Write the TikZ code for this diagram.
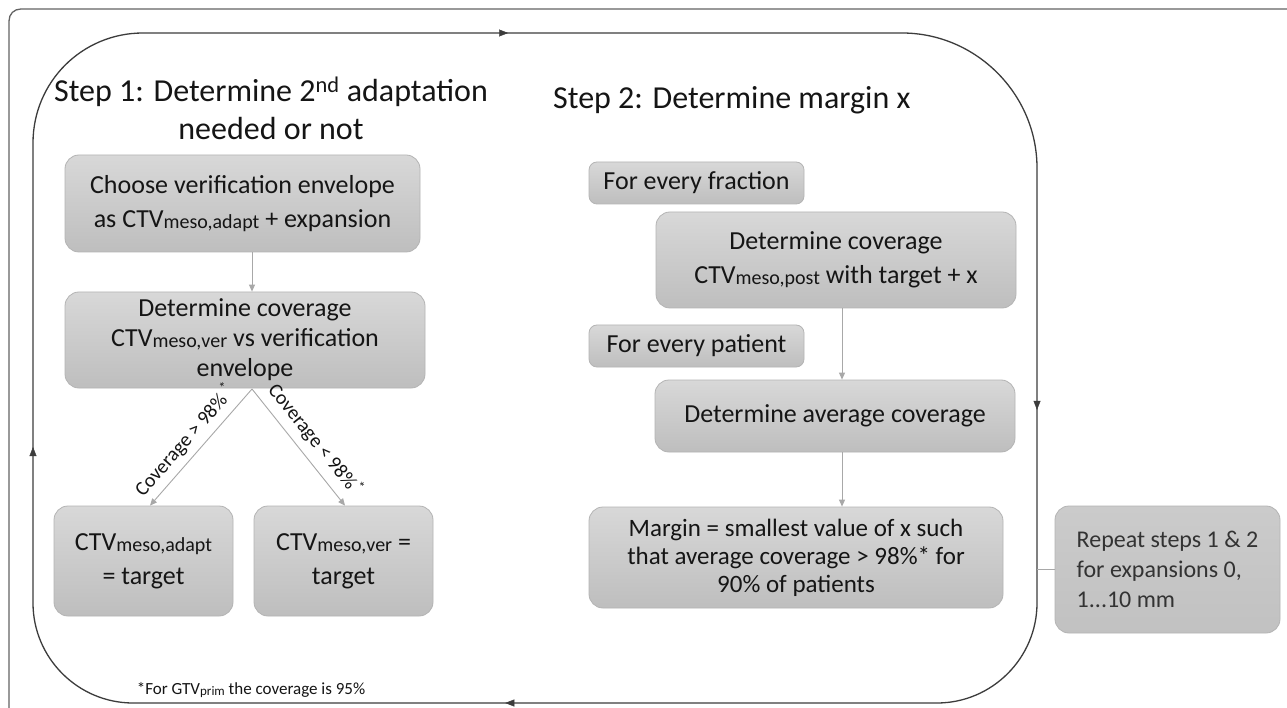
\documentclass[tikz,border=0pt]{standalone}
\usepackage{fontspec}
\setmainfont{Carlito}
\usetikzlibrary{arrows.meta,decorations.markings}
\definecolor{boxtop}{HTML}{D8D8D8}
\definecolor{boxbot}{HTML}{BEBEBE}
\definecolor{boxline}{HTML}{B4B4B4}
\definecolor{txt}{HTML}{151515}
\definecolor{reptxt}{HTML}{333333}
\definecolor{thin}{HTML}{A8A8A8}
\definecolor{loopc}{HTML}{3C3C3C}
\newcommand{\sbs}[1]{\raisebox{-1pt}{\fontsize{20}{20}\selectfont #1}}
\newcommand{\sbf}[1]{\raisebox{-1pt}{\fontsize{13}{13}\selectfont #1}}
\tikzset{
  flowbox/.style={draw=boxline, line width=0.8pt, rounded corners=14pt,
    top color=boxtop, bottom color=boxbot, align=center, text=txt,
    inner sep=0pt, font=\fontsize{26}{34}\selectfont},
  smallbox/.style={flowbox, rounded corners=8pt},
  thinarrow/.style={draw=thin, line width=0.9pt, -{Triangle[length=7pt,width=6pt]}},
  thinline/.style={draw=thin, line width=0.9pt},
  loopline/.style={draw=loopc, line width=1.3pt},
  frameline/.style={draw=loopc!80, line width=1.3pt},
  looptip/.style={decorate, decoration={markings,
     mark=at position #1 with {\arrow[loopc]{Triangle[length=9pt,width=7pt]}}}},
  title/.style={text=txt, font=\fontsize{32}{38}\selectfont, inner sep=0pt},
  edgelabel/.style={text=txt, font=\fontsize{20}{22}\selectfont, inner sep=0pt},
}
\begin{document}
\begin{tikzpicture}[x=1pt,y=-1pt]
\useasboundingbox[fill=white] (0,0) rectangle (1287,708);
% outer frame
\coordinate (f1) at (9,708);
\coordinate (f2) at (1287,9);
\draw[frameline] (f1) -- (9,21) .. controls (9,14) and (14,9) .. (21,9) -- (f2);
% loop
\coordinate (lt1) at (143,33);
\coordinate (lt2) at (902,33);
\coordinate (rv1) at (1037,168);
\coordinate (rv2) at (1037,603);
\coordinate (bt1) at (937,703);
\coordinate (bt2) at (133,703);
\coordinate (lv1) at (33,603);
\coordinate (lv2) at (33,143);
\draw[loopline] (lt1) -- (lt2) .. controls (976,33) and (1037,94) .. (rv1) -- (rv2)
  .. controls (1037,658) and (992,703) .. (bt1) -- (bt2)
  .. controls (78,703) and (33,658) .. (lv1) -- (lv2)
  .. controls (33,82) and (82,33) .. (lt1) -- cycle;
\path[looptip=0.481] (lt1) -- (lt2);
\path[looptip=0.556] (rv1) -- (rv2);
\path[looptip=0.537] (bt1) -- (bt2);
\path[looptip=0.339] (lv1) -- (lv2);
% titles
\node[title, align=center] (t1) at (271,108) {Step 1: Determine 2\textsuperscript{nd} adaptation\\needed or not};
\node[title, anchor=west] (t2) at (553,100) {Step 2: Determine margin x};
% step 1 boxes
\node[flowbox, minimum width=355pt, minimum height=97pt] (b1) at (242.5,203.5)
  {Choose verification envelope\\as CTV\sbs{meso,adapt} + expansion};
\node[flowbox, minimum width=360pt, minimum height=96pt, font=\fontsize{26}{30}\selectfont] (b2) at (245,340)
  {Determine coverage\\CTV\sbs{meso,ver} vs verification\\envelope};
\node[flowbox, minimum width=179pt, minimum height=110pt] (b3) at (143.5,561)
  {CTV\sbs{meso,adapt}\\= target};
\node[flowbox, minimum width=179pt, minimum height=110pt] (b4) at (343.5,561)
  {CTV\sbs{meso,ver} =\\target};
% step 2 boxes
\node[smallbox, minimum width=215pt, minimum height=42pt] (b5) at (696.5,183) {For every fraction};
\node[flowbox, minimum width=360pt, minimum height=96pt] (b6) at (836,260)
  {Determine coverage\\CTV\sbs{meso,post} with target + x};
\node[smallbox, minimum width=215pt, minimum height=42pt] (b7) at (696.5,346) {For every patient};
\node[flowbox, minimum width=360pt, minimum height=72pt] (b8) at (835,416) {Determine average coverage};
\node[flowbox, minimum width=414pt, minimum height=101pt, font=\fontsize{25}{28}\selectfont] (b9) at (796,557.5)
  {Margin = smallest value of x such\\that average coverage > 98\%* for\\90\% of patients};
\node[flowbox, minimum width=225pt, minimum height=127pt, top color=boxbot!80!white, bottom color=boxbot!95!white,
  align=left, text=reptxt, font=\fontsize{24}{30}\selectfont] (b10) at (1167.5,569.5)
  {Repeat steps 1 \& 2\\for expansions 0,\\1...10 mm\hspace*{62pt}};
% connectors step 1
\coordinate (ax) at (252,0);
\coordinate (apex) at (252,389);
\draw[thinarrow] (b1.south -| ax) -- (b2.north -| ax);
\coordinate (a3) at (150,0);
\coordinate (a4) at (345,0);
\draw[thinarrow] (apex) -- (b3.north -| a3);
\draw[thinarrow] (apex) -- (b4.north -| a4);
\node[edgelabel, rotate=48.7] (l1) at (184.5,440) {Coverage > 98\% \textsuperscript{*}};
\node[edgelabel, rotate=-51.3] (l2) at (315.5,439) {Coverage < 98\%\textsuperscript{*}};
% connectors step 2
\coordinate (cx) at (842,0);
\draw[thinarrow] (b6.south -| cx) -- (b8.north -| cx);
\draw[thinarrow] (b8.south -| cx) -- (b9.north -| cx);
\coordinate (rx) at (1037,0);
\draw[thinline] (b10.west) -- (b10.west -| rx);
% footnote
\node[text=txt, font=\fontsize{17}{20}\selectfont, inner sep=0pt] (fn) at (251,690)
  {*For GTV\sbf{prim} the coverage is 95\%};
\end{tikzpicture}
\end{document}
